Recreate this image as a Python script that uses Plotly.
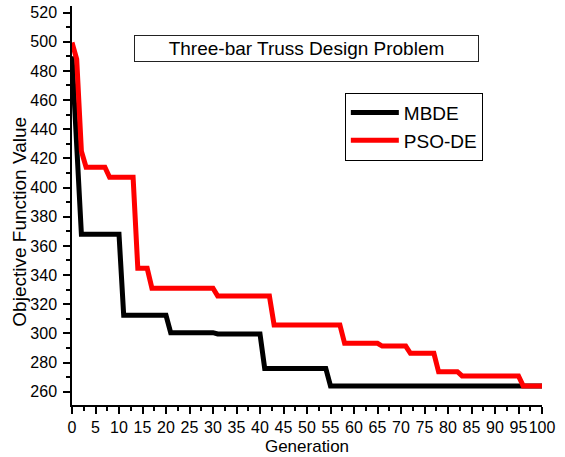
import plotly.graph_objects as go

# Data (breakpoints of the convergence curves)
mbde_gen = [0, 2, 10, 11, 20, 21, 30, 31, 40, 41, 54, 55, 100]
mbde_val = [490, 368, 368, 312.4, 312.4, 300.5, 300.5, 299.6, 299.6, 276, 276, 264, 264]

psode_gen = [0, 1, 2, 3, 7, 8, 13, 14, 16, 17, 30, 31, 42, 43, 57, 58, 65, 66, 71, 72, 77, 78, 82, 83, 95, 96, 100]
psode_val = [499.5, 488, 425, 414, 414, 407, 407, 344.6, 344.6, 331, 331, 325.6, 325.6, 305.8, 305.8,
             293.2, 293.2, 291.3, 291.3, 286.3, 286.3, 273.7, 273.7, 270.8, 270.8, 264, 264]

x_ticks = list(range(0, 101, 5))
y_ticks = list(range(260, 521, 20))

FONT = "Arial, Liberation Sans, sans-serif"

fig = go.Figure()
fig.add_trace(go.Scatter(x=mbde_gen, y=mbde_val, mode="lines", name="MBDE",
                         line=dict(color="#000000", width=5)))
fig.add_trace(go.Scatter(x=psode_gen, y=psode_val, mode="lines", name="PSO-DE",
                         line=dict(color="#FF0000", width=5)))

fig.update_layout(
    width=565, height=457,
    margin=dict(l=72, r=23, t=6, b=52, pad=0, autoexpand=False),
    plot_bgcolor="white", paper_bgcolor="white",
    font=dict(family=FONT, color="black", size=16),
    showlegend=True,
    legend=dict(x=0.5805, y=0.783, xanchor="left", yanchor="top",
                bordercolor="black", borderwidth=1, bgcolor="white",
                itemwidth=48,
                font=dict(size=19, family=FONT), tracegroupgap=0),
    annotations=[
        dict(text="Three-bar Truss Design Problem", xref="paper", yref="paper",
             x=0.4993, y=0.8947, xanchor="center", yanchor="middle",
             showarrow=False, width=343, height=25, borderwidth=1,
             bordercolor="#222", borderpad=0, bgcolor="white",
             font=dict(size=19, family=FONT)),
        dict(text="Objective Function Value", xref="paper", yref="paper",
             x=-0.1106, y=0.4595, xanchor="center", yanchor="middle",
             textangle=-90, showarrow=False, font=dict(size=19, family=FONT)),
    ],
)
fig.update_xaxes(range=[0, 100], tickvals=x_ticks, ticktext=[str(v) for v in x_ticks],
                 tickangle=0, automargin=False,
                 showgrid=False, zeroline=False, showline=True, linecolor="black", linewidth=1.5,
                 ticks="outside", ticklen=7, tickwidth=1.5, tickcolor="black",
                 minor=dict(dtick=2.5, ticks="outside", ticklen=4, tickwidth=1.5, tickcolor="black"),
                 title=dict(text="Generation", font=dict(size=17), standoff=5),
                 tickfont=dict(size=16))
fig.update_yaxes(range=[250.9, 524.5], tickvals=y_ticks, ticktext=[str(v) for v in y_ticks],
                 automargin=False, ticklabelstandoff=3,
                 showgrid=False, zeroline=False, showline=True, linecolor="black", linewidth=1.5,
                 ticks="outside", ticklen=7, tickwidth=1.5, tickcolor="black",
                 minor=dict(dtick=10, ticks="outside", ticklen=4, tickwidth=1.5, tickcolor="black"),
                 tickfont=dict(size=16))

fig.write_html("out.html", config={"displayModeBar": False},
               post_script="document.body.style.margin='0';")
